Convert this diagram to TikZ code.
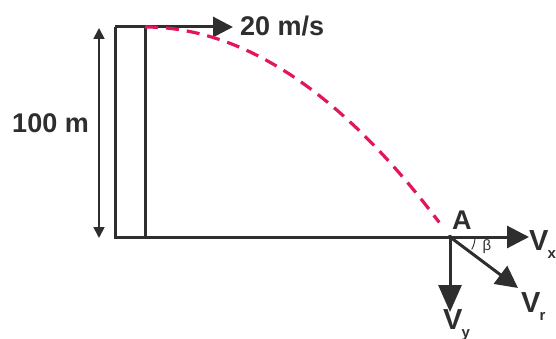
\documentclass[tikz,border=0pt]{standalone}
\usepackage{fontspec}
\setmainfont{Liberation Sans}
\definecolor{DarkInk}{HTML}{2E2E2E}
\definecolor{PathPink}{HTML}{E2165E}
\usetikzlibrary{arrows.meta, positioning, calc}
\newcommand{\vlab}[1]{V\kern-1pt\lower8pt\hbox{\fontsize{15}{16}\selectfont\bfseries #1}}

\begin{document}
\begin{tikzpicture}[x=1pt, y=-1pt, >={Triangle[length=22pt,width=22pt]},
  wall/.style={DarkInk, line width=3pt},
  vec/.style={DarkInk, line width=3pt, ->},
  lbl/.style={DarkInk, font=\fontsize{27}{30}\selectfont\bfseries, inner sep=0pt},
  vlbl/.style={DarkInk, font=\fontsize{29}{32}\selectfont\bfseries, inner sep=0pt}]
  \useasboundingbox (0,0) rectangle (556,339);

  % Tower and ground
  \coordinate (topL) at (115,27);
  \coordinate (topR) at (145,27);
  \coordinate (botL) at (115,237);
  \coordinate (botR) at (145,237);
  \coordinate (A) at (450,237);
  \draw[wall] (topL) -- (botL) -- (A);
  \draw[wall] (topR) -- (botR);

  % Launch velocity
  \coordinate (v0) at (233,27);
  \draw[vec, >={Triangle[length=20pt,width=20pt]}] (topL) -- (v0);
  \node[lbl, anchor=west] (speed) at (240,26) {20 m/s};

  % Height
  \coordinate (hTop) at (99,28);
  \coordinate (hBot) at (99,238);
  \draw[DarkInk, line width=1.8pt, {Triangle[length=11pt,width=11pt]}-{Triangle[length=11pt,width=11pt]}] (hTop) -- (hBot);
  \node[lbl, anchor=east] (height) at (89,123) {100 m};

  % Trajectory
  \draw[PathPink, line width=3.2pt, dash pattern=on 13pt off 8pt, domain=0:0.965, samples=40]
    plot ({145+305*\x}, {27+210*\x*\x});

  % Velocity components at A
  \coordinate (vx) at (529,237);
  \coordinate (vy) at (450,312);
  \coordinate (vr) at (518,288);
  \draw[vec] (A) -- (vx);
  \draw[vec, >={Triangle[length=27pt,width=23pt]}] (A) -- (vy);
  \draw[vec] (A) -- (vr);
  \fill[DarkInk] (A) circle (2.2pt);
  \draw[DarkInk, line width=0.9pt] ($(A)+(0:25)$) arc[start angle=0, end angle=-30, radius=25pt];

  \node[lbl, anchor=south west] (ptA) at (452,230) {A};
  \node[vlbl, anchor=base west] (labVx) at (529,250) {\vlab{x}};
  \node[vlbl, anchor=base west] (labVy) at (443,329) {\vlab{y}};
  \node[vlbl, anchor=base west] (labVr) at (521,312) {\vlab{r}};
  \node[DarkInk, font=\fontsize{15}{17}\selectfont, inner sep=0pt] (beta) at (487,247) {β};
\end{tikzpicture}
\end{document}
